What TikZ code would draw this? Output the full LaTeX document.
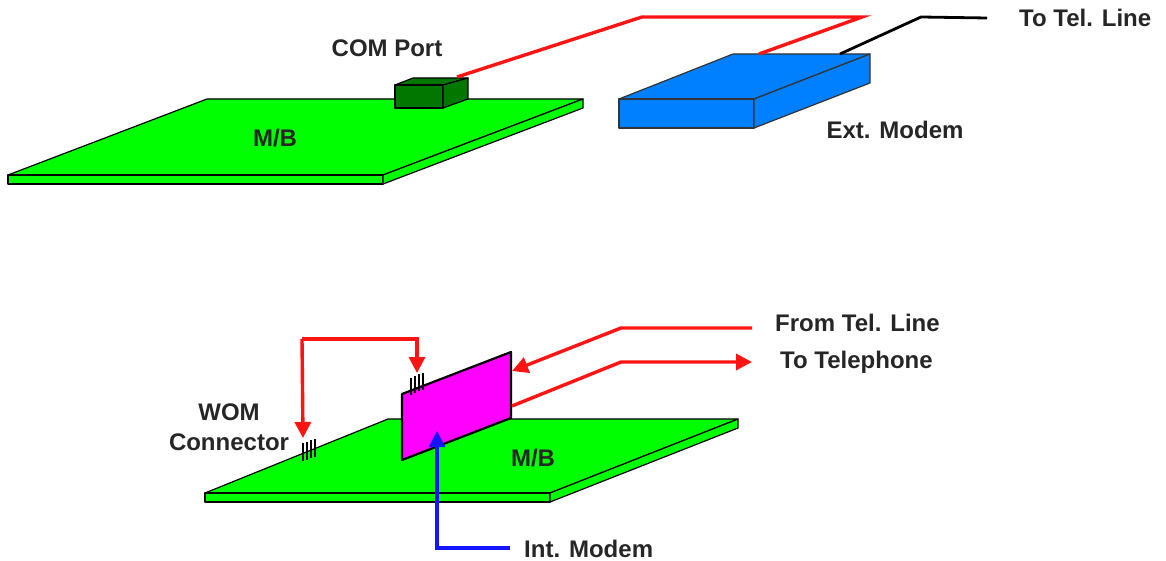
\documentclass[tikz,border=0pt]{standalone}
\usepackage{fontspec}
\setmainfont{Liberation Sans}
\usetikzlibrary{arrows.meta}

\definecolor{boardgreen}{RGB}{0,255,0}
\definecolor{portgreen}{RGB}{0,120,0}
\definecolor{modemblue}{RGB}{0,128,255}
\definecolor{cardpink}{RGB}{255,0,255}
\definecolor{wirered}{RGB}{255,20,20}
\definecolor{wireblue}{RGB}{20,20,255}

\tikzset{
  board/.style={fill=boardgreen, draw=black, line width=1.2pt, line join=round},
  port/.style={fill=portgreen, draw=black, line width=1.2pt, line join=round},
  modem/.style={fill=modemblue, draw=black!80, line width=1.2pt, line join=round},
  card/.style={fill=cardpink, draw=black, line width=2.2pt, line join=round},
  wire/.style={wirered, line width=3.4pt},
  redarrow/.style={wirered, line width=3.4pt, -{Triangle[width=16pt,length=16pt]}},
  bluearrow/.style={wireblue, line width=3.4pt, -{Triangle[width=16pt,length=16pt]}},
  label/.style={font=\bfseries\fontsize{24}{30}\selectfont, text=black!85, inner sep=0pt},
  pins/.style={black, line width=1.9pt}
}

\begin{document}
\begin{tikzpicture}[x=1pt, y=-1pt]
  \useasboundingbox[fill=white] (0,0) rectangle (1166,561);

  % upper motherboard
  \draw[board] (8,175) -- (207,99) -- (583,99) -- (383,175) -- cycle;
  \draw[board] (8,175) -- (383,175) -- (383,184) -- (8,184) -- cycle;
  \draw[board] (383,175) -- (583,99) -- (583,108) -- (383,184) -- cycle;

  % COM port
  \draw[port] (395,85) -- (413,78) -- (468,78) -- (443,85) -- cycle;
  \draw[port] (395,85) -- (443,85) -- (443,108) -- (395,108) -- cycle;
  \draw[port] (443,85) -- (468,78) -- (468,99) -- (443,108) -- cycle;

  % external modem
  \draw[modem] (619,99) -- (733,54) -- (870,54) -- (754,99) -- cycle;
  \draw[modem] (619,99) -- (754,99) -- (754,128) -- (619,128) -- cycle;
  \draw[modem] (754,99) -- (870,54) -- (870,83) -- (754,128) -- cycle;

  \coordinate (comport) at (457,77);
  \coordinate (modemin) at (759,54);
  \coordinate (modemout) at (840,54);

  \node[label] (comlabel) at (387,48) {COM Port};
  \node[label] (mbtop) at (275,138) {M/B};
  \node[label] (extmodem) at (895,130) {Ext. Modem};
  \node[label, anchor=west] (telline) at (1019,18) {To Tel. Line};

  \draw[wire] (comport) -- (642,17) -- (862,17) -- (modemin);
  \draw[black, line width=2.8pt] (modemout) -- (921,17) -- (telline.west -| 987,0);

  % lower motherboard
  \draw[board] (205,493) -- (388,419) -- (738,419) -- (550,493) -- cycle;
  \draw[board] (205,493) -- (550,493) -- (550,502) -- (205,502) -- cycle;
  \draw[board] (550,493) -- (738,419) -- (738,428) -- (550,502) -- cycle;

  % WOM connector pins, stepping up along the board edge
  \foreach \x [evaluate=\x as \e using {493-0.404*(\x-205)}] in {303,307,311,315}
    \draw[pins] (\x,\e-10) -- (\x,\e+8);

  % internal modem card
  \draw[card] (402,394) -- (511,352) -- (511,418) -- (402,460) -- cycle;

  % WOM pins on the card edge
  \foreach \x [evaluate=\x as \e using {394-0.385*(\x-402)}] in {411,415,419,423}
    \draw[pins] (\x,\e-13) -- (\x,\e+4);

  \coordinate (womboard) at (303,438);
  \coordinate (womcard) at (417,373);
  \coordinate (cardin) at (512,371);
  \coordinate (cardout) at (512,406);
  \coordinate (cardface) at (437,431);

  \node[label] (mbbottom) at (533,458) {M/B};
  \node[label, align=center] (wom) at (229,427) {WOM\\Connector};
  \node[label, anchor=west] (fromtel) at (775,323) {From Tel. Line};
  \node[label, anchor=west] (totel) at (780,362) {To Telephone};
  \node[label, anchor=west] (intmodem) at (524,549) {Int. Modem};

  \draw[redarrow] (302,339) -- (womboard);
  \draw[redarrow] (302,339) -- (417,339) -- (womcard);
  \draw[redarrow] (752,328) -- (621,328) -- (cardin);
  \draw[redarrow] (cardout) -- (621,362) -- (752,362);
  \draw[bluearrow] (510,548) -- (437,548) -- (cardface);
\end{tikzpicture}
\end{document}
